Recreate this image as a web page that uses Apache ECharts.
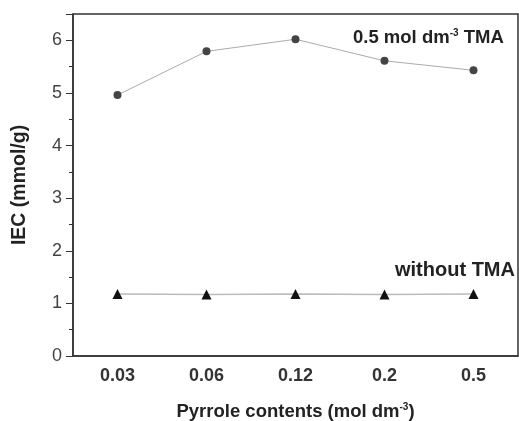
<!DOCTYPE html>
<html>
<head>
<meta charset="utf-8">
<script src="https://cdn.jsdelivr.net/npm/echarts@6/dist/echarts.min.js"></script>
<style>
  html, body { margin: 0; padding: 0; background: #fff; }
  #chart { width: 519px; height: 421px; }
</style>
</head>
<body>
<div id="chart"></div>
<script>
// pyrrole contents (mol dm-3)
var categories = ['0.03', '0.06', '0.12', '0.2', '0.5'];
// IEC values (mmol/g)
var withTMA = [4.96, 5.79, 6.02, 5.61, 5.43];
var withoutTMA = [1.18, 1.17, 1.18, 1.17, 1.18];
var yTicks = [0, 1, 2, 3, 4, 5, 6];

var font = 'Liberation Sans, Arial, sans-serif';
var chart = echarts.init(document.getElementById('chart'));

chart.setOption({
    animation: false,
    grid: {
        left: 73, right: 1, top: 14, bottom: 65,
        outerBoundsMode: 'none',
        show: true, borderColor: '#333', borderWidth: 1.5, backgroundColor: 'transparent'
    },
    xAxis: {
        type: 'category',
        data: categories,
        boundaryGap: true,
        name: 'Pyrrole contents (mol dm{sup|-3})',
        nameLocation: 'middle',
        nameGap: 46,
        nameTextStyle: {
            fontFamily: font, fontSize: 18.5, fontWeight: 'bold', color: '#222',
            rich: { sup: { fontSize: 10, fontWeight: 'bold', verticalAlign: 'top', padding: [0, 0, 10, 0], color: '#222' } }
        },
        axisLine: { lineStyle: { color: '#333', width: 1.5 } },
        axisTick: { alignWithLabel: true, length: 6, lineStyle: { color: '#333' } },
        axisLabel: { fontFamily: font, fontSize: 18, fontWeight: 'bold', color: '#333', margin: 11 },
        splitLine: { show: false }
    },
    yAxis: {
        type: 'value',
        min: 0, max: 6.5, interval: 1,
        name: 'IEC (mmol/g)',
        nameLocation: 'middle',
        nameGap: 43,
        nameTextStyle: { fontFamily: font, fontSize: 19.5, fontWeight: 'bold', color: '#222' },
        axisLine: { show: true, lineStyle: { color: '#333', width: 1.5 } },
        axisTick: { show: true, length: 7, lineStyle: { color: '#333' } },
        minorTick: { show: true, splitNumber: 2, length: 4, lineStyle: { color: '#333' } },
        axisLabel: {
            fontFamily: font, fontSize: 18, color: '#444', margin: 11,
            formatter: function (v) { return yTicks.indexOf(v) >= 0 ? String(v) : ''; }
        },
        splitLine: { show: false }
    },
    graphic: [
        {
            type: 'text', left: 353, top: 28,
            style: {
                text: '0.5 mol dm{sup|-3} TMA',
                font: 'bold 18.5px ' + font, fill: '#222',
                rich: { sup: { fontSize: 10, fontWeight: 'bold', verticalAlign: 'top', padding: [0, 0, 10, 0], fill: '#222' } }
            }
        },
        {
            type: 'text', left: 395, top: 260,
            style: { text: 'without TMA', font: 'bold 20px ' + font, fill: '#222' }
        }
    ],
    series: [
        {
            name: '0.5 mol dm-3 TMA',
            type: 'line',
            data: withTMA,
            symbol: 'circle',
            symbolSize: 8,
            itemStyle: { color: '#444' },
            lineStyle: { color: '#aaa', width: 1 }
        },
        {
            name: 'without TMA',
            type: 'line',
            data: withoutTMA,
            symbol: 'triangle',
            symbolSize: 10,
            itemStyle: { color: '#111' },
            lineStyle: { color: '#bbb', width: 1.5 }
        }
    ]
});
</script>
</body>
</html>
